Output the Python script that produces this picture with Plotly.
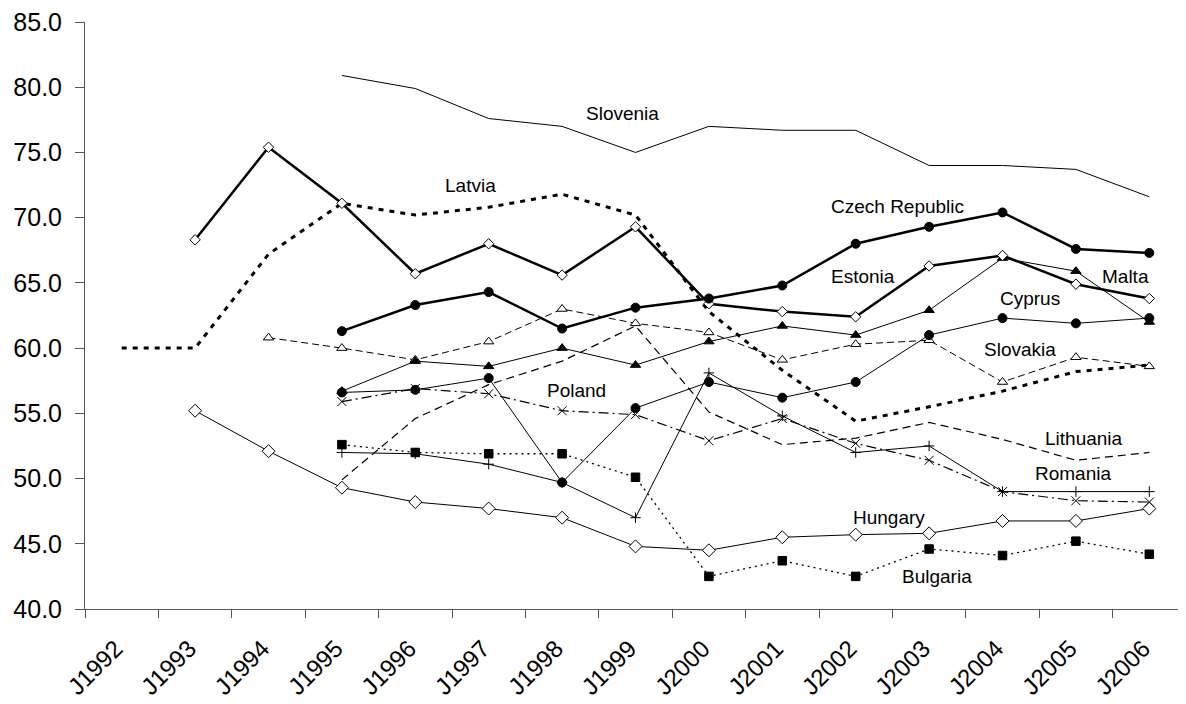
import plotly.graph_objects as go

years = ["J1992", "J1993", "J1994", "J1995", "J1996", "J1997", "J1998", "J1999",
         "J2000", "J2001", "J2002", "J2003", "J2004", "J2005", "J2006"]

slovenia = [None, None, None, 80.9, 79.9, 77.6, 77.0, 75.0, 77.0, 76.7, 76.7, 74.0, 74.0, 73.7, 71.6]
latvia = [60.0, 60.0, 67.2, 71.1, 70.2, 70.8, 71.8, 70.2, 62.8, 58.3, 54.4, 55.5, 56.7, 58.2, 58.7]
czech = [None, None, None, 61.3, 63.3, 64.3, 61.5, 63.1, 63.8, 64.8, 68.0, 69.3, 70.4, 67.6, 67.3]
estonia = [None, 68.3, 75.4, 71.1, 65.7, 68.0, 65.6, 69.3, 63.4, 62.8, 62.4, 66.3, 67.1, 64.9, 63.8]
malta = [None, None, None, 56.7, 59.0, 58.6, 60.0, 58.7, 60.5, 61.7, 61.0, 62.9, 66.9, 65.9, 62.0]
cyprus = [None, None, None, 56.6, 56.8, 57.7, 49.7, 55.4, 57.4, 56.2, 57.4, 61.0, 62.3, 61.9, 62.3]
slovakia = [None, None, 60.8, 60.0, 59.1, 60.5, 63.0, 61.9, 61.2, 59.1, 60.3, 60.6, 57.4, 59.3, 58.6]
poland = [None, None, None, 55.9, 56.9, 56.5, 55.2, 54.9, 52.9, 54.6, 52.7, 51.4, 49.0, 48.3, 48.2]
lithuania = [None, None, None, 49.9, 54.6, 57.2, 59.0, 61.7, 55.1, 52.6, 53.1, 54.3, 53.0, 51.4, 52.0]
romania = [None, None, None, 52.0, 51.9, 51.1, 49.7, 47.0, 58.1, 54.8, 52.0, 52.5, 49.0, 49.0, 49.0]
hungary = [None, 55.2, 52.1, 49.3, 48.2, 47.7, 47.0, 44.8, 44.5, 45.5, 45.7, 45.8, 46.75, 46.75, 47.7]
bulgaria = [None, None, None, 52.6, 52.0, 51.9, 51.9, 50.1, 42.5, 43.7, 42.5, 44.6, 44.1, 45.2, 44.2]

label_text = ["Slovenia", "Latvia", "Czech Republic", "Estonia", "Malta", "Cyprus",
              "Slovakia", "Poland", "Lithuania", "Romania", "Hungary", "Bulgaria"]
label_x = [6.82, 4.75, 10.57, 10.10, 13.68, 12.38, 12.24, 6.19, 13.11, 12.96, 10.45, 11.11]
label_y = [77.96, 72.5, 70.87, 65.49, 65.49, 63.82, 59.92, 56.76, 53.08, 50.35, 47.0, 42.5]

FONT = "Liberation Sans, Arial, sans-serif"
K = "black"

fig = go.Figure()


def add(name, vals, width=1.0, dash="solid", symbol=None, size=9, fill=K):
    mode = "lines" if symbol is None else "lines+markers"
    marker = None
    if symbol is not None:
        marker = dict(symbol=symbol, size=size, color=fill,
                      line=dict(color=K, width=1))
    fig.add_trace(go.Scatter(x=years, y=vals, name=name, mode=mode,
                             line=dict(color=K, width=width, dash=dash),
                             marker=marker, connectgaps=False))


add("Lithuania", lithuania, width=1.2, dash="8px,5px")
add("Latvia", latvia, width=3, dash="5px,6px")
add("Slovenia", slovenia, width=1)
add("Bulgaria", bulgaria, width=1.3, dash="2px,4px", symbol="square", size=8.5)
add("Hungary", hungary, width=1, symbol="diamond", size=10, fill="white")
add("Romania", romania, width=1, symbol="cross-thin-open", size=7.5)
add("Poland", poland, width=1.2, dash="10px,4px,2px,4px", symbol="x-thin-open", size=9)
add("Slovakia", slovakia, width=1, dash="7px,4px", symbol="triangle-up", size=9, fill="white")
add("Cyprus", cyprus, width=1, symbol="circle", size=9)
add("Malta", malta, width=1, symbol="triangle-up", size=9)
add("Estonia", estonia, width=2.5, symbol="diamond", size=8, fill="white")
add("Czech Republic", czech, width=2.5, symbol="circle", size=9)

for t, x, y in zip(label_text, label_x, label_y):
    fig.add_annotation(x=x, y=y, xref="x", yref="y", text=t, showarrow=False,
                       font=dict(family=FONT, size=19, color=K))

# the page body adds an 8px offset, so the figure is 8px smaller and margins shifted
fig.update_layout(
    width=1178, height=696,
    margin=dict(l=77, r=0, t=14, b=95),
    plot_bgcolor="white", paper_bgcolor="white",
    showlegend=False,
    font=dict(family=FONT, size=24, color=K),
)
fig.update_xaxes(
    type="category", categoryorder="array", categoryarray=years,
    tickson="boundaries", ticks="outside", ticklen=8, tickcolor="#555",
    showline=True, linecolor="#555", linewidth=1, showgrid=False, zeroline=False,
    tickangle=-45, tickfont=dict(family=FONT, size=24, color=K),
    ticklabelstandoff=15, ticklabelshift=-6, ticklabeloverflow="allow",
    range=[-0.5, 14.5], automargin=False,
)
fig.update_yaxes(
    range=[40, 85], dtick=5, tick0=40, tickformat=".1f",
    ticks="outside", ticklen=9, tickcolor="#555",
    showline=True, linecolor="#555", linewidth=1, showgrid=False, zeroline=False,
    tickfont=dict(family=FONT, size=25, color=K),
    ticklabelstandoff=8, ticklabeloverflow="allow", automargin=False,
)

fig.write_html("out.html")
